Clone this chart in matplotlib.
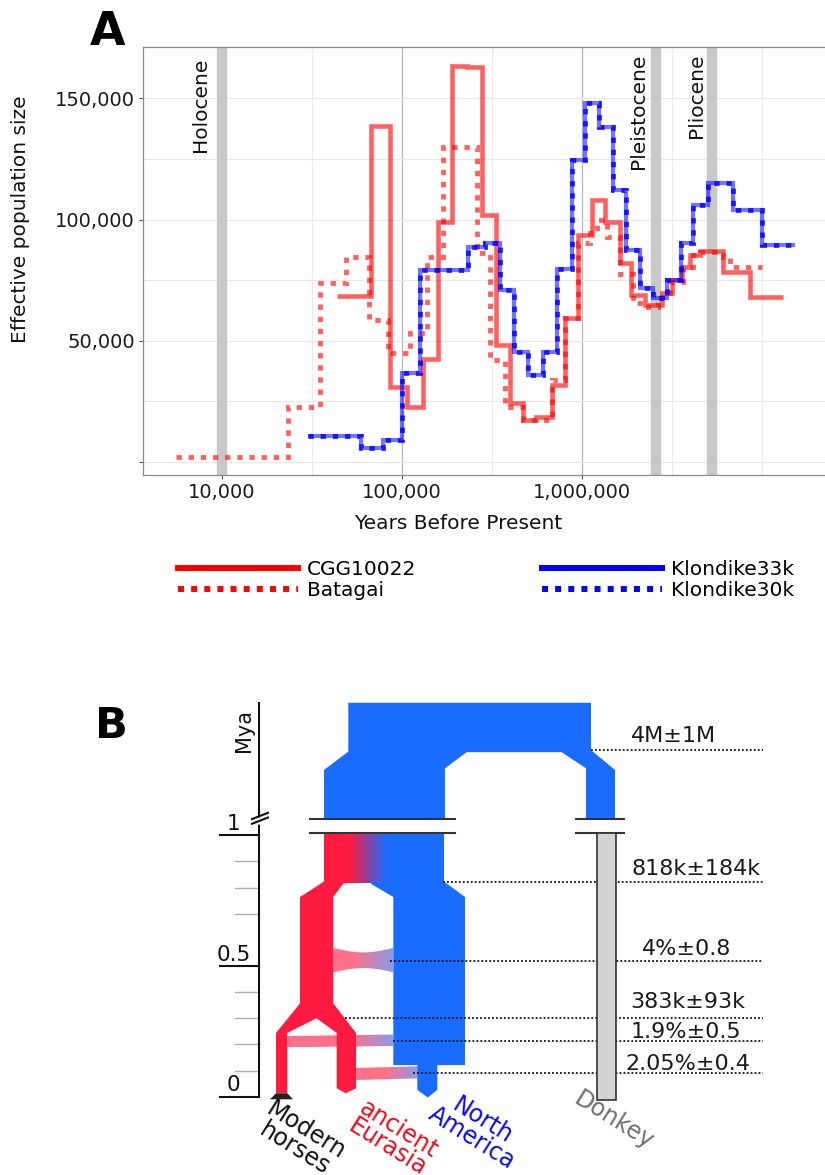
import numpy as np
import matplotlib
matplotlib.use("Agg")
import matplotlib.pyplot as plt
from matplotlib.lines import Line2D
from matplotlib.patches import Polygon
from matplotlib.ticker import FixedLocator, FuncFormatter, NullFormatter

plt.rcParams["font.family"] = ["DejaVu Sans"]

# ---- panel A: PSMC trajectories (segment edges in years, Ne for each segment)
cgg_edges = [43600, 68000, 86000, 107000, 132000, 160000, 190000, 230000,
             278000, 334000, 400000, 474000, 560000, 681000, 808000, 957000,
             1135000, 1350000, 1630000, 1890000, 2250000, 2780000, 3160000,
             3590000, 3980000, 4540000, 6120000, 8610000, 13200000]
cgg_ne = [68400, 138600, 31000, 22700, 42200, 99100, 163300, 162800, 101800,
          48200, 24100, 17200, 18600, 31600, 59200, 93600, 108000, 99100,
          81900, 68800, 64700, 69500, 75000, 80500, 85300, 87100, 78400, 67800]

batagai_edges = [5600, 23400, 35200, 49400, 66000, 84400, 111000, 138000,
                 170000, 261000, 310000, 375000, 474000, 681000, 808000,
                 957000, 1110000, 1210000, 1380000, 1630000, 1940000, 2350000,
                 2670000, 3090000, 3670000, 4170000, 4540000, 6120000,
                 6670000, 10000000]
batagai_ne = [2000, 22700, 73600, 84400, 58500, 44700, 53000, 84600, 130000,
              86000, 42000, 22700, 17200, 33700, 59200, 90100, 94300, 99800,
              92900, 77700, 65400, 64000, 68100, 74300, 80500, 85300, 86700,
              84600, 80500]

klondike_edges = [30300, 59800, 79000, 100000, 126000, 234000, 290000, 352000,
                  421000, 506000, 612000, 726000, 880000, 1040000, 1250000,
                  1500000, 1760000, 2110000, 2500000, 2970000, 3550000,
                  4170000, 5050000, 6950000, 10000000, 15300000]
klondike_ne = [10600, 5500, 8900, 36500, 79100, 88500, 90500, 70900, 45400,
               36000, 45400, 79400, 124500, 147900, 138000, 112100, 87400,
               71600, 67400, 75000, 90100, 106000, 114900, 103900, 89400]

epochs = ["Holocene", "Pleistocene", "Pliocene"]
epoch_years = [10000, 2580000, 5330000]

xticks = [1e4, 1e5, 1e6]
xtick_labels = ["10,000", "100,000", "1,000,000"]
yticks = [0, 50000, 100000, 150000]

# ---- panel B: split / admixture estimates and where they sit on the Mya axis
event_labels = ["4M±1M", "818k±184k", "4%±0.8", "383k±93k", "1.9%±0.5",
                "2.05%±0.4"]
event_mya = [1.326, 0.822, 0.520, 0.300, 0.212, 0.090]
lineages = ["Modern\nhorses", "ancient\nEurasia", "North\nAmerica", "Donkey"]
lineage_colors = ["#111111", "#ee0a1e", "#0a0aee", "#707070"]

RED = "#ff1a40"
BLUE = "#1a6cff"

fig = plt.figure(figsize=(8.25, 11.75), dpi=100)

# ================= panel A =================
ax = fig.add_axes([143 / 825, 1 - 475 / 1175, 697 / 825, 428.3 / 1175])
ax.set_xscale("log")
ax.set_xlim(10 ** 3.564, 10 ** 7.435)
ax.set_ylim(-5490, 171350)

for x in epoch_years:
    ax.axvline(x, color="#c8c8c8", lw=7.5, zorder=1)

ax.stairs(cgg_ne, cgg_edges, baseline=None, color="red", alpha=0.62,
          lw=3.3, zorder=3)
ax.stairs(batagai_ne, batagai_edges, baseline=None, color="red", alpha=0.62,
          lw=3.5, ls=(0, (1.1, 1.4)), zorder=3)
ax.stairs(klondike_ne, klondike_edges, baseline=None, color="blue", alpha=0.55,
          lw=3.0, zorder=3)
ax.stairs(klondike_ne, klondike_edges, baseline=None, color="blue", alpha=0.8,
          lw=3.5, ls=(0, (1.1, 1.4)), zorder=4)

offsets = [-8.5, -5.5, -4.5]
tops = [167000, 168500, 168500]
for name, x, dx, y in zip(epochs, epoch_years, offsets, tops):
    ax.annotate(name, xy=(x, y), xytext=(dx, 0), textcoords="offset points",
                rotation=90, ha="right", va="top", fontsize=14.5,
                color="#111111", zorder=5)

ax.xaxis.set_major_locator(FixedLocator(xticks))
ax.xaxis.set_minor_locator(FixedLocator([10 ** 3.5, 10 ** 4.5, 10 ** 5.5,
                                         10 ** 6.5, 1e7]))
ax.xaxis.set_minor_formatter(NullFormatter())
ax.set_xticklabels(xtick_labels)
ax.yaxis.set_major_locator(FixedLocator(yticks))
ax.yaxis.set_minor_locator(FixedLocator([25000, 75000, 125000]))
ax.yaxis.set_major_formatter(
    FuncFormatter(lambda v, p: "" if v == 0 else f"{v:,.0f}"))

ax.tick_params(which="major", length=3, width=0.8, color="#555555",
               labelsize=14, labelcolor="#1a1a1a", pad=3)
ax.tick_params(which="minor", length=0)
ax.grid(which="major", axis="x", color="#b5b5b5", lw=0.9, zorder=0)
ax.grid(which="minor", axis="x", color="#ececec", lw=0.9, zorder=0)
ax.grid(which="both", axis="y", color="#e8e8e8", lw=0.9, zorder=0)
ax.set_axisbelow(True)
for side in ["left", "bottom", "top", "right"]:
    ax.spines[side].set_color("#8a8a8a")
    ax.spines[side].set_linewidth(0.9)

fig.text(21 / 825, 1 - 219 / 1175, "Effective population size", rotation=90,
         ha="center", va="center", fontsize=14.5, color="#111111")
fig.text(458 / 825, 1 - 524 / 1175, "Years Before Present", ha="center",
         va="center", fontsize=14.5, color="#111111")
fig.text(90 / 825, 1 - 45 / 1175, "A", fontsize=33, fontweight="bold")

handles = [Line2D([], [], color="red", lw=4.3),
           Line2D([], [], color="red", lw=4.3, ls=(0, (1, 1.2))),
           Line2D([], [], color="blue", lw=4.3),
           Line2D([], [], color="blue", lw=4.3, ls=(0, (1, 1.2)))]
fig.legend(handles, ["CGG10022", "Batagai", "Klondike33k", "Klondike30k"],
           ncol=2, loc="upper left", bbox_to_anchor=(178 / 825, 1 - 560 / 1175),
           frameon=False, fontsize=14.5, handlelength=5.97, handletextpad=0.45,
           columnspacing=6.2, borderpad=0, borderaxespad=0, labelspacing=0.1)

# ================= panel B =================
bx = fig.add_axes([0, 0, 1, 485 / 1175])
bx.set_xlim(0, 825)
bx.set_ylim(-0.2995, 1.5558)
bx.axis("off")
fig.text(95 / 825, 1 - 738 / 1175, "B", fontsize=31, fontweight="bold")


def mix(c0, c1, f):
    a = np.array(matplotlib.colors.to_rgb(c0))
    b = np.array(matplotlib.colors.to_rgb(c1))
    return a * (1 - f)[:, None] + b * f[:, None]


def gradient_fill(verts, g0, g1, fmax=1.0, alpha=1.0, z=2):
    # horizontal red -> blue gradient clipped to a polygon
    verts = np.asarray(verts)
    x0, x1 = verts[:, 0].min(), verts[:, 0].max()
    y0, y1 = verts[:, 1].min(), verts[:, 1].max()
    xs = np.linspace(x0, x1, 300)
    f = np.clip((xs - g0) / (g1 - g0), 0, 1) * fmax
    rgba = np.ones((1, xs.size, 4))
    rgba[0, :, :3] = mix(RED, BLUE, f)
    rgba[0, :, 3] = alpha
    clip = Polygon(verts, closed=True, fc="none", ec="none")
    bx.add_patch(clip)
    im = bx.imshow(rgba, extent=(x0, x1, y0, y1), aspect="auto",
                   interpolation="bilinear", zorder=z)
    im.set_clip_path(clip)


# time axis with a break above 1 Mya
axis_x = 259.3
bx.plot([axis_x, axis_x], [0, 1.507], color="#111111", lw=1.5, zorder=5)
for t in [0.1, 0.2, 0.3, 0.4, 0.7, 0.8, 0.9]:
    bx.plot([235, axis_x], [t, t], color="#b0b0b0", lw=1.0, zorder=4)
for t, lab in zip([0, 0.5, 1.0], ["0", "0.5", "1"]):
    bx.plot([220, axis_x], [t, t], color="#111111", lw=1.5, zorder=5)
    bx.text(233.5, t + 0.02, lab, ha="center", va="baseline", fontsize=15.5,
            color="#111111")
bx.fill_between([251, 270], [1.044, 1.048], [1.066, 1.070], color="white",
                zorder=6)
bx.plot([252, 268], [1.044, 1.068], color="#111111", lw=1.5, zorder=7)
bx.plot([252, 268], [1.062, 1.086], color="#111111", lw=1.5, zorder=7)
bx.text(243.5, 1.402, "Mya", rotation=90, ha="center", va="center",
        fontsize=15, color="#111111")

# deep ancestral stem shared with the donkey
stem = [(348.3, 1.507), (591, 1.507), (591, 1.326), (615, 1.25),
        (615, 1.062), (586, 1.062), (586, 1.256), (561.7, 1.318),
        (466.7, 1.318), (445, 1.256), (445, 1.062), (324, 1.062),
        (324, 1.25), (348.3, 1.32)]
bx.add_patch(Polygon(stem, closed=True, fc=BLUE, ec="none", zorder=2))

# horse stem below the break: Eurasian (red) to American (blue) gradient
gradient_fill([(324, 1.010), (444, 1.010), (444, 0.816), (324, 0.816)],
              350, 386)

eurasia = [(324, 0.823), (352, 0.823), (343, 0.814), (333.3, 0.764),
           (333.3, 0.357), (356, 0.244), (356, 0.032), (345.7, 0.013),
           (336.7, 0.032), (336.7, 0.244), (316.5, 0.300), (287.3, 0.244),
           (287.3, 0.013), (276, 0.013), (276, 0.244), (300, 0.357),
           (300, 0.764)]
bx.add_patch(Polygon(eurasia, closed=True, fc=RED, ec="none", zorder=2))

america = [(372, 0.823), (444, 0.823), (465, 0.764), (465, 0.121),
           (437.3, 0.121), (437.3, 0.026), (427.7, -0.003), (417.3, 0.026),
           (417.3, 0.121), (393.3, 0.121), (393.3, 0.764), (371, 0.814)]
bx.add_patch(Polygon(america, closed=True, fc=BLUE, ec="none", zorder=2))

bx.add_patch(Polygon([(270, -0.010), (293, -0.010), (287.3, 0.013),
                      (276, 0.013)], closed=True, fc="#222222", ec="none",
                     zorder=3))

# admixture pulses
xs = np.linspace(333.3, 393.3, 40)
pinch = np.sin(np.pi * (xs - 333.3) / 60.0)
band1 = np.vstack([np.column_stack([xs, 0.569 - 0.017 * pinch]),
                   np.column_stack([xs[::-1], 0.476 + 0.016 * pinch[::-1]])])
gradient_fill(band1, 352, 393.3, fmax=0.8, alpha=0.62, z=3)
gradient_fill([(287.3, 0.232), (393.3, 0.238), (393.3, 0.194),
               (287.3, 0.189)], 352, 393.3, fmax=0.8, alpha=0.62, z=3)
gradient_fill([(356, 0.110), (417.3, 0.116), (417.3, 0.070), (356, 0.064)],
              385, 417.3, fmax=0.8, alpha=0.62, z=3)

# break markers on the horse and donkey branches
for xa, xb in [(310, 455), (575.7, 624.3)]:
    for t in [1.062, 1.010]:
        bx.plot([xa, xb], [t, t], color="#333333", lw=1.5, zorder=4)

# dotted lines for each estimate
starts = [591, 443, 390, 345, 393, 413]
for t, x0 in zip(event_mya, starts):
    bx.plot([x0, 763], [t, t], color="#111111", lw=1.3, ls=(0, (1, 1.2)),
            zorder=6)

# donkey lineage after the break
bx.add_patch(Polygon([(596.7, 1.010), (615.7, 1.010), (615.7, -0.013),
                      (596.7, -0.013)], closed=True, fc="#d3d3d3",
                     ec="#333333", lw=1.2, zorder=7))

label_pos = [(673, 1.358), (696, 0.848), (687, 0.542), (688, 0.339),
             (686, 0.225), (688, 0.102)]
for lab, (x, y) in zip(event_labels, label_pos):
    bx.text(x, y, lab, ha="center", va="baseline", fontsize=16,
            color="#1a1a1a", zorder=8)

# lineage names, tilted under the tips
centers = [(300, -0.165), (393, -0.158), (477, -0.125), (614, -0.092)]
for lab, col, (x, y) in zip(lineages, lineage_colors, centers):
    bx.text(x, y, lab, rotation=-32, rotation_mode="anchor", ha="center",
            va="center", multialignment="center", fontsize=17, color=col,
            linespacing=0.85)

fig.savefig("out.png", dpi=100)
